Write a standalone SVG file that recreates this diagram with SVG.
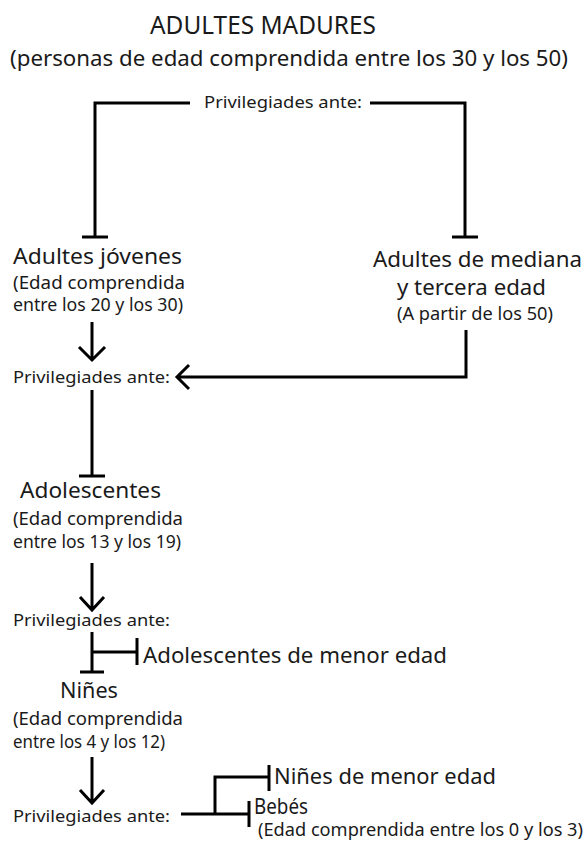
<svg xmlns="http://www.w3.org/2000/svg" width="587" height="843" viewBox="0 0 587 843">
<style>
text{font-family:"Noto Sans","Open Sans","Liberation Sans",sans-serif;fill:#1a1a1a}
.t{font-size:26px}
.s{font-size:22px}
.n{font-size:22px}
.d{font-size:18px}
.p{font-size:17px}
.c{fill:none;stroke:#000;stroke-width:3;stroke-linecap:butt;stroke-linejoin:miter}
</style>
<rect width="587" height="843" fill="#fff"/>
<g id="title">
<text class="t" x="150" y="34" textLength="226" lengthAdjust="spacingAndGlyphs">ADULTES MADURES</text>
<text class="s" x="10" y="66" textLength="558" lengthAdjust="spacingAndGlyphs">(personas de edad comprendida entre los 30 y los 50)</text>
</g>
<g id="priv1"><text class="p" x="204" y="108" textLength="158" lengthAdjust="spacingAndGlyphs">Privilegiades ante:</text></g>
<g id="jovenes">
<text class="n" x="13" y="264" textLength="169" lengthAdjust="spacingAndGlyphs">Adultes jóvenes</text>
<text class="d" x="13" y="289" textLength="172" lengthAdjust="spacingAndGlyphs">(Edad comprendida</text>
<text class="d" x="13" y="311" textLength="170" lengthAdjust="spacingAndGlyphs">entre los 20 y los 30)</text>
</g>
<g id="mediana">
<text class="n" x="373" y="267" textLength="209" lengthAdjust="spacingAndGlyphs">Adultes de mediana</text>
<text class="n" x="397" y="295" textLength="149" lengthAdjust="spacingAndGlyphs">y tercera edad</text>
<text class="d" x="397" y="320" textLength="156" lengthAdjust="spacingAndGlyphs">(A partir de los 50)</text>
</g>
<g id="priv2"><text class="p" x="13" y="383" textLength="157" lengthAdjust="spacingAndGlyphs">Privilegiades ante:</text></g>
<g id="adolescentes">
<text class="n" x="20" y="498" textLength="141" lengthAdjust="spacingAndGlyphs">Adolescentes</text>
<text class="d" x="13" y="525" textLength="170" lengthAdjust="spacingAndGlyphs">(Edad comprendida</text>
<text class="d" x="13" y="548" textLength="168" lengthAdjust="spacingAndGlyphs">entre los 13 y los 19)</text>
</g>
<g id="priv3"><text class="p" x="13" y="626" textLength="157" lengthAdjust="spacingAndGlyphs">Privilegiades ante:</text></g>
<g id="adol-menor"><text class="n" x="143" y="663" textLength="304" lengthAdjust="spacingAndGlyphs">Adolescentes de menor edad</text></g>
<g id="nines">
<text class="n" x="60" y="698" textLength="58" lengthAdjust="spacingAndGlyphs">Niñes</text>
<text class="d" x="13" y="725" textLength="170" lengthAdjust="spacingAndGlyphs">(Edad comprendida</text>
<text class="d" x="13" y="748" textLength="152" lengthAdjust="spacingAndGlyphs">entre los 4 y los 12)</text>
</g>
<g id="priv4"><text class="p" x="13" y="822" textLength="157" lengthAdjust="spacingAndGlyphs">Privilegiades ante:</text></g>
<g id="nines-menor"><text class="n" x="274" y="784" textLength="222" lengthAdjust="spacingAndGlyphs">Niñes de menor edad</text></g>
<g id="bebes">
<text class="n" x="254" y="814" textLength="54" lengthAdjust="spacingAndGlyphs">Bebés</text>
<text class="d" x="258" y="836" textLength="325" lengthAdjust="spacingAndGlyphs">(Edad comprendida entre los 0 y los 3)</text>
</g>
<g id="connectors">
<path class="c" d="M190,103 H95 V237 M82,237 H108"/>
<path class="c" d="M370,103 H465 V237 M452,237 H478"/>
<path class="c" d="M92,322 V359 M79,347 L92,360 L105,347"/>
<path class="c" d="M466,330 V377 H177 M189,365 L177,377 L189,389"/>
<path class="c" d="M92,390 V476 M79,476 H105"/>
<path class="c" d="M92,563 V609 M80,597 L92,610 L104,597"/>
<path class="c" d="M92,632 V672 M80,672 H104 M92,652 H137 M137,638 V665"/>
<path class="c" d="M92,757 V802 M80,790 L92,803 L104,790"/>
<path class="c" d="M181,814 H249 M249,801 V827 M215,814 V777 H269 M269,765 V791"/>
</g>
</svg>
